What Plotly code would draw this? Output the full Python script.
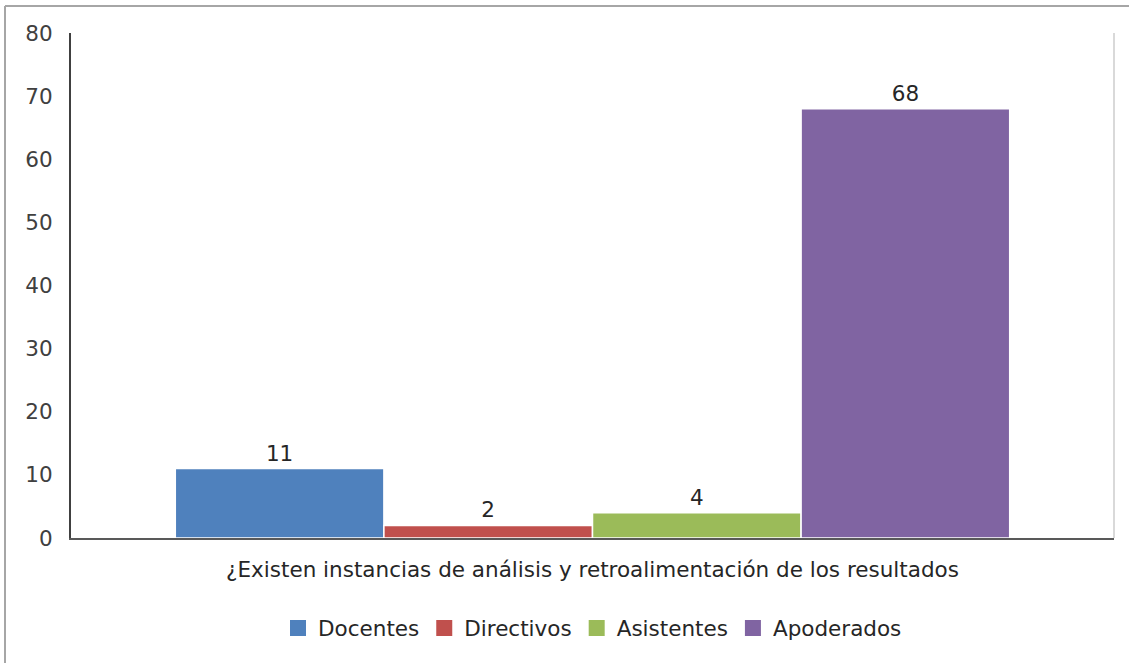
import plotly.graph_objects as go

category = ["¿Existen instancias de análisis y retroalimentación de los resultados"]
series_names = ["Docentes", "Directivos", "Asistentes", "Apoderados"]
values = [11, 2, 4, 68]
colors = ["#4F81BD", "#C0504D", "#9BBB59", "#8064A2"]
y_ticks = [0, 10, 20, 30, 40, 50, 60, 70, 80]

FONT = "'DejaVu Sans', sans-serif"
TXT = "#404040"

fig = go.Figure()
for name, v, c in zip(series_names, values, colors):
    fig.add_trace(go.Bar(
        name=name, x=category, y=[v], showlegend=False,
        marker=dict(color=c, line=dict(color="white", width=1.5)),
        text=[str(v)], textposition="outside", cliponaxis=False,
        textfont=dict(family=FONT, size=21.5, color="#262626"),
    ))
# legend entries with larger square symbols
for name, c in zip(series_names, colors):
    fig.add_trace(go.Scatter(
        name=name, x=[None], y=[None], mode="markers",
        marker=dict(symbol="square", size=17, color=c),
    ))

W, H = 1129, 663
l, r, t, b = 71, 15, 33, 125
pw, ph = W - l - r, H - t - b

def px_x(x):
    return (x - l) / pw

def px_y(y):
    return (H - b - y) / ph

fig.update_layout(
    width=W, height=H,
    margin=dict(l=l, r=r, t=t, b=b),
    paper_bgcolor="white", plot_bgcolor="white",
    barmode="group", bargap=0.2, bargroupgap=0.0,
    font=dict(family=FONT, size=21.5, color=TXT),
    showlegend=True,
    legend=dict(orientation="h", x=0.5, xanchor="center", y=px_y(628), yanchor="middle",
                font=dict(family=FONT, size=21.5, color="#262626"), itemwidth=30,
                traceorder="normal", itemclick=False),
    xaxis=dict(showline=True, linecolor="#595959", linewidth=2, ticks="",
               showgrid=False, layer="below traces",
               tickfont=dict(family=FONT, size=21.5, color="#262626"),
               ticklabelstandoff=11),
    yaxis=dict(range=[0, 80], tickvals=y_ticks, showline=True, linecolor="#404040",
               linewidth=2, ticks="", showgrid=False, zeroline=False,
               tickfont=dict(family=FONT, size=21.5, color=TXT),
               ticklabelstandoff=12, layer="below traces"),
    shapes=[
        dict(type="line", xref="paper", yref="paper", x0=1, x1=1, y0=0, y1=1,
             line=dict(color="#D9D9D9", width=2)),
        dict(type="line", xref="paper", yref="paper", x0=px_x(5), x1=px_x(5),
             y0=px_y(6), y1=px_y(670), line=dict(color="#A6A6A6", width=2)),
        dict(type="line", xref="paper", yref="paper", x0=px_x(5), x1=px_x(1140),
             y0=px_y(6), y1=px_y(6), line=dict(color="#A6A6A6", width=2)),
    ],
)

fig.write_html("out.html")
